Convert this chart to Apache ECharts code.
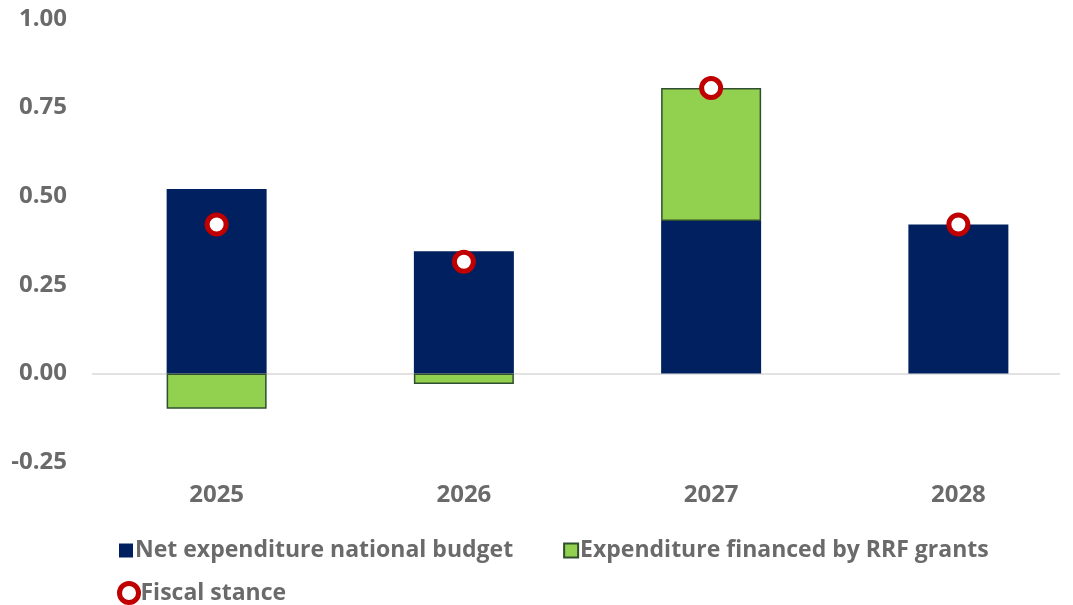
<!DOCTYPE html>
<html>
<head>
<meta charset="utf-8">
<script src="https://cdn.jsdelivr.net/npm/echarts@6/dist/echarts.min.js"></script>
<style>
  html, body { margin: 0; padding: 0; background: #fff; }
  #chart { width: 1073px; height: 605px; }
</style>
</head>
<body>
<div id="chart"></div>
<script>
// Fiscal stance decomposition, contributions by year
const years = ['2025', '2026', '2027', '2028'];
const netNational = [0.52, 0.345, 0.43, 0.42];
const rrfGrants = [-0.10, -0.03, 0.375, 0];
const fiscalStance = [0.42, 0.315, 0.805, 0.42];

const textColor = '#6a6a6a';
const font = 'Open Sans';

// zero-valued segments get no outline so they leave no stray line on the stack
const rrfData = rrfGrants.map(v => (v === 0 ? { value: v, itemStyle: { borderWidth: 0 } } : v));

const chart = echarts.init(document.getElementById('chart'), null, { renderer: 'canvas' });
chart.setOption({
  animation: false,
  backgroundColor: '#ffffff',
  grid: { left: 93, width: 989, top: 19, bottom: 143, outerBoundsMode: 'none', containLabel: false },
  xAxis: {
    type: 'category',
    data: years,
    axisLine: { show: false },
    axisTick: { show: false },
    axisLabel: {
      color: textColor, fontFamily: font, fontWeight: 'bold', fontSize: 24,
      margin: 21
    }
  },
  yAxis: {
    type: 'value',
    min: -0.25,
    max: 1,
    interval: 0.25,
    axisLine: { show: false },
    axisTick: { show: false },
    splitLine: { show: false },
    axisLabel: {
      color: textColor, fontFamily: font, fontWeight: 'bold', fontSize: 24,
      margin: 26,
      formatter: v => v.toFixed(2)
    }
  },
  legend: [
    {
      data: [
        { name: 'Net expenditure national budget', icon: 'rect' },
        { name: 'Expenditure financed by RRF grants', icon: 'rect' }
      ],
      left: 114, top: 534,
      itemWidth: 14, itemHeight: 14, itemGap: 50,
      textStyle: { color: textColor, fontFamily: font, fontWeight: 'bold', fontSize: 23, padding: [0, 0, 0, -3] }
    },
    {
      data: [{ name: 'Fiscal stance', icon: 'circle' }],
      left: 112, top: 576,
      itemWidth: 19, itemHeight: 19,
      itemStyle: { color: '#ffffff', borderColor: '#c00000', borderWidth: 5 },
      textStyle: { color: textColor, fontFamily: font, fontWeight: 'bold', fontSize: 23, padding: [0, 0, 0, -3] }
    }
  ],
  series: [
    {
      name: 'Net expenditure national budget',
      type: 'bar',
      stack: 'total',
      data: netNational,
      barWidth: 100,
      itemStyle: { color: '#002060' },
      markLine: {
        silent: true, symbol: 'none', label: { show: false },
        lineStyle: { color: '#d9d9d9', width: 1.5, type: 'solid' },
        data: [[{ x: 92, yAxis: 0 }, { x: 1060, yAxis: 0 }]],
        z: 0
      },
      z: 2
    },
    {
      name: 'Expenditure financed by RRF grants',
      type: 'bar',
      stack: 'total',
      data: rrfData,
      barWidth: 100,
      itemStyle: { color: '#92d050', borderColor: '#2f4f2f', borderWidth: 1.5 },
      z: 2
    },
    {
      name: 'Fiscal stance',
      type: 'scatter',
      data: fiscalStance,
      symbol: 'circle',
      symbolSize: 19,
      itemStyle: { color: '#ffffff', borderColor: '#c00000', borderWidth: 5, opacity: 1 },
      z: 5
    }
  ]
});
</script>
</body>
</html>
